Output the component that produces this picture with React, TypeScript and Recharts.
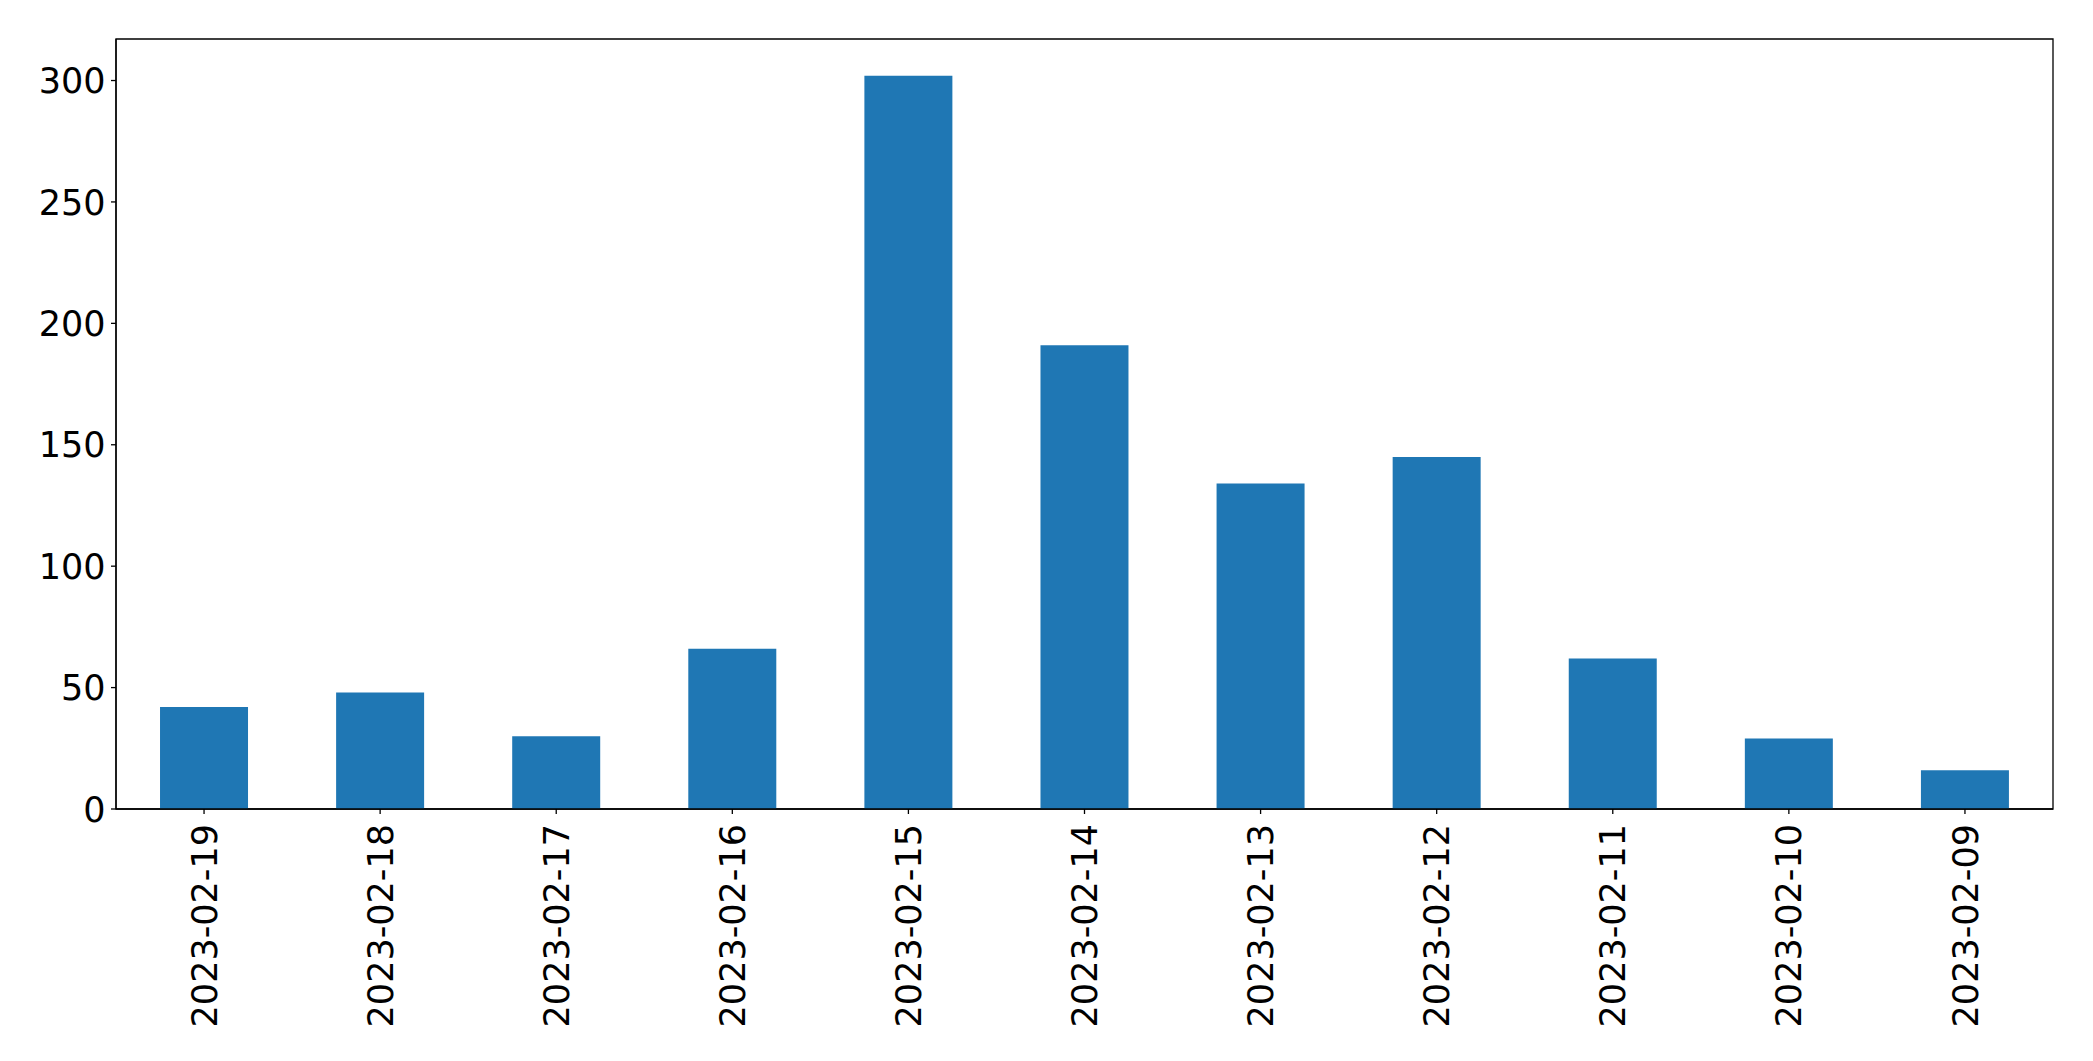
import React from "react";
import { BarChart, Bar, XAxis, YAxis, ReferenceArea } from "recharts";

const dates = [
  "2023-02-19",
  "2023-02-18",
  "2023-02-17",
  "2023-02-16",
  "2023-02-15",
  "2023-02-14",
  "2023-02-13",
  "2023-02-12",
  "2023-02-11",
  "2023-02-10",
  "2023-02-09",
];
const counts = [42, 48, 30, 66, 302, 191, 134, 145, 62, 29, 16];
const yTicks = [0, 50, 100, 150, 200, 250, 300];
const yMax = 317.1;

const data = dates.map((d, i) => ({ date: d, count: counts[i] }));

const FONT = "'DejaVu Sans', sans-serif";
const FS = 35;

const XTick = (props: any) => {
  const { x, y, payload } = props;
  return (
    <g transform={`translate(${x},${y + 10}) rotate(-90)`}>
      <text
        x={0}
        y={0}
        dy="0.36em"
        textAnchor="end"
        fontFamily={FONT}
        fontSize={FS}
        fill="#000"
      >
        {payload.value}
      </text>
    </g>
  );
};

const YTick = (props: any) => {
  const { x, y, payload } = props;
  return (
    <text
      x={x}
      y={y}
      dy="0.36em"
      textAnchor="end"
      fontFamily={FONT}
      fontSize={FS}
      fill="#000"
    >
      {payload.value}
    </text>
  );
};

export default function App() {
  return (
    <div style={{ position: "absolute", left: 0, top: 0, background: "#fff" }}>
      <BarChart
        width={2093}
        height={1061}
        data={data}
        margin={{ top: 39, right: 40, bottom: 0, left: 0 }}
        barCategoryGap="25%"
      >
        <XAxis
          dataKey="date"
          interval={0}
          height={252}
          tickSize={5}
          tickMargin={0}
          tick={<XTick />}
          axisLine={{ stroke: "#000", strokeWidth: 1.3 }}
          tickLine={{ stroke: "#000", strokeWidth: 1.3 }}
        />
        <YAxis
          width={116}
          domain={[0, yMax]}
          ticks={yTicks}
          tickSize={5}
          tickMargin={5.5}
          tick={<YTick />}
          axisLine={{ stroke: "#000", strokeWidth: 1.3 }}
          tickLine={{ stroke: "#000", strokeWidth: 1.3 }}
          allowDataOverflow
        />
        <Bar dataKey="count" fill="#1f77b4" isAnimationActive={false} />
        <ReferenceArea
          x1={dates[0]}
          x2={dates[dates.length - 1]}
          y1={0}
          y2={yMax}
          fill="none"
          fillOpacity={0}
          stroke="#000"
          strokeWidth={1.3}
          ifOverflow="visible"
        />
      </BarChart>
    </div>
  );
}
